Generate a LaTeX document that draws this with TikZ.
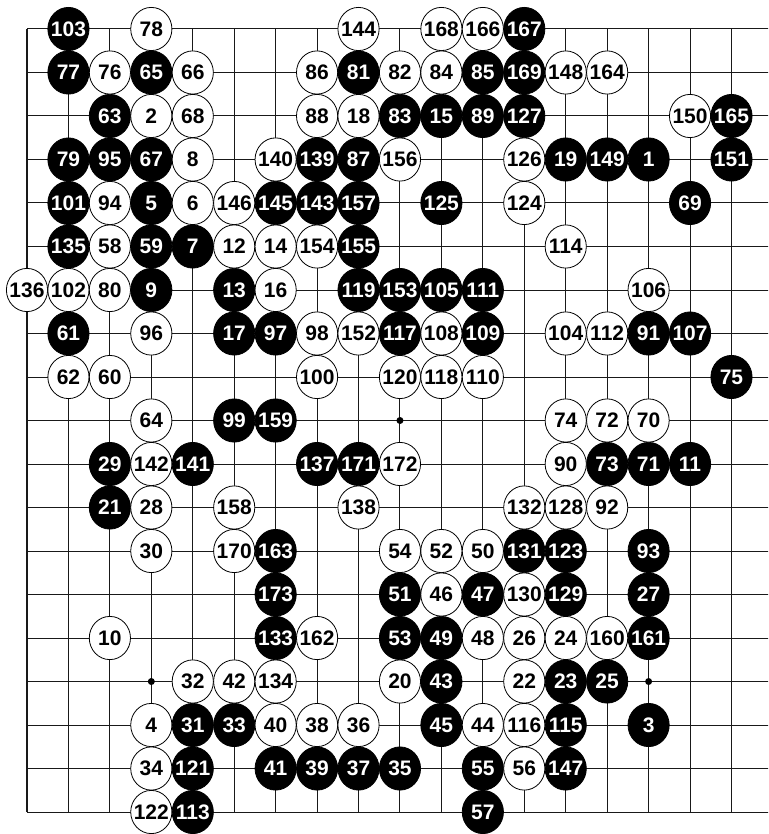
\documentclass[tikz,border=0pt]{standalone}
\usepackage{fontspec}
\setmainfont{Liberation Sans}
\usetikzlibrary{shapes.geometric}
\tikzset{
  gridline/.style={draw=black!90, line width=1pt},
  hoshi/.style={fill=black},
  stonebase/.style={ellipse, inner sep=0pt, minimum width=41.2pt, minimum height=43.2pt, line width=0.8pt, draw=black,
    font=\fontsize{21pt}{21pt}\selectfont\bfseries},
  bstone/.style={stonebase, fill=black, text=white},
  wstone/.style={stonebase, fill=white, text=black},
}
\begin{document}
\begin{tikzpicture}[x={(41.44pt,0pt)}, y={(0pt,-43.5pt)}]
\useasboundingbox (-27pt,29pt) rectangle (741pt,-805pt);
\clip (-27pt,29pt) rectangle (741pt,-805pt);
% grid
\foreach \c in {0,...,17} \draw[gridline] (\c,0) -- (\c,18);
\foreach \r in {0,...,18} \draw[gridline] (0,\r) -- (18.5,\r);
% star points
\foreach \c in {3,9,15} \foreach \r in {3,9,15} \fill[hoshi] (\c,\r) circle[radius=3.5pt];
% black stones
\foreach \c/\r/\n in {
 1/0/103, 12/0/167,
 1/1/77, 3/1/65, 8/1/81, 11/1/85, 12/1/169,
 2/2/63, 9/2/83, 10/2/15, 11/2/89, 12/2/127, 17/2/165,
 1/3/79, 2/3/95, 3/3/67, 7/3/139, 8/3/87, 13/3/19, 14/3/149, 15/3/1, 17/3/151,
 1/4/101, 3/4/5, 6/4/145, 7/4/143, 8/4/157, 10/4/125, 16/4/69,
 1/5/135, 3/5/59, 4/5/7, 8/5/155,
 3/6/9, 5/6/13, 8/6/119, 9/6/153, 10/6/105, 11/6/111,
 1/7/61, 5/7/17, 6/7/97, 9/7/117, 11/7/109, 15/7/91, 16/7/107,
 17/8/75,
 5/9/99, 6/9/159,
 2/10/29, 4/10/141, 7/10/137, 8/10/171, 14/10/73, 15/10/71, 16/10/11,
 2/11/21,
 6/12/163, 12/12/131, 13/12/123, 15/12/93,
 6/13/173, 9/13/51, 11/13/47, 13/13/129, 15/13/27,
 6/14/133, 9/14/53, 10/14/49, 15/14/161,
 10/15/43, 13/15/23, 14/15/25,
 4/16/31, 5/16/33, 10/16/45, 13/16/115, 15/16/3,
 4/17/121, 6/17/41, 7/17/39, 8/17/37, 9/17/35, 11/17/55, 13/17/147,
 4/18/113, 11/18/57}
  \node[bstone] (s\n) at (\c,\r) {\makebox[0pt]{\n}};
% white stones
\foreach \c/\r/\n in {
 3/0/78, 8/0/144, 10/0/168, 11/0/166,
 2/1/76, 4/1/66, 7/1/86, 9/1/82, 10/1/84, 13/1/148, 14/1/164,
 3/2/2, 4/2/68, 7/2/88, 8/2/18, 16/2/150,
 4/3/8, 6/3/140, 9/3/156, 12/3/126,
 2/4/94, 4/4/6, 5/4/146, 12/4/124,
 2/5/58, 5/5/12, 6/5/14, 7/5/154, 13/5/114,
 0/6/136, 1/6/102, 2/6/80, 6/6/16, 15/6/106,
 3/7/96, 7/7/98, 8/7/152, 10/7/108, 13/7/104, 14/7/112,
 1/8/62, 2/8/60, 7/8/100, 9/8/120, 10/8/118, 11/8/110,
 3/9/64, 13/9/74, 14/9/72, 15/9/70,
 3/10/142, 9/10/172, 13/10/90,
 3/11/28, 5/11/158, 8/11/138, 12/11/132, 13/11/128, 14/11/92,
 3/12/30, 5/12/170, 9/12/54, 10/12/52, 11/12/50,
 10/13/46, 12/13/130,
 2/14/10, 7/14/162, 11/14/48, 12/14/26, 13/14/24, 14/14/160,
 4/15/32, 5/15/42, 6/15/134, 9/15/20, 12/15/22,
 3/16/4, 6/16/40, 7/16/38, 8/16/36, 11/16/44, 12/16/116,
 3/17/34, 12/17/56,
 3/18/122}
  \node[wstone] (s\n) at (\c,\r) {\makebox[0pt]{\n}};
\end{tikzpicture}
\end{document}
